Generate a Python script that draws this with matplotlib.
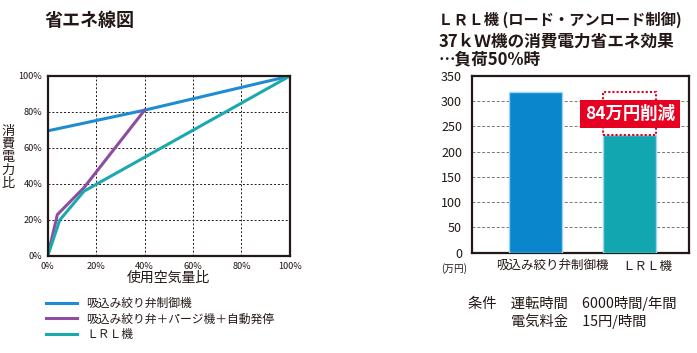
import matplotlib
matplotlib.use('Agg')
import matplotlib.pyplot as plt
from matplotlib.patches import Rectangle

plt.rcParams['font.family'] = ['Noto Sans CJK JP', 'DejaVu Sans']

# left chart: 省エネ線図
air_ticks = [0, 20, 40, 60, 80, 100]
blue_x = [0, 40, 100]
blue_y = [69.5, 81, 100]
purple_x = [0, 4, 15, 40]
purple_y = [0, 23, 38, 81]
teal_x = [0, 5, 15, 100]
teal_y = [0, 20, 36, 100]
line_labels = ['吸込み絞り弁制御機', '吸込み絞り弁＋パージ機＋自動発停', 'ＬＲＬ機']

# right chart: 電力費
bar_names = ['吸込み絞り弁制御機', 'ＬＲＬ機']
bar_values = [318, 234]
saving = 84
cost_ticks = [0, 50, 100, 150, 200, 250, 300, 350]

ink = '#231815'
c_blue = '#1E8CD2'
c_purple = '#8E4DA0'
c_teal = '#1BA8AE'

fig = plt.figure(figsize=(6.97, 3.53), dpi=100)

ax = fig.add_axes([0.0684, 0.2748, 0.3476, 0.51])
l1, = ax.plot(blue_x, blue_y, color=c_blue, lw=2.2)
l2, = ax.plot(purple_x, purple_y, color=c_purple, lw=2.2)
l3, = ax.plot(teal_x, teal_y, color=c_teal, lw=2.2)
ax.set_xlim(0, 100)
ax.set_ylim(0, 100)
ax.set_xticks(air_ticks)
ax.set_yticks(air_ticks)
ax.set_xticklabels([f'{t}%' for t in air_ticks])
ax.set_yticklabels([f'{t}%' for t in air_ticks])
ax.tick_params(length=0, labelsize=6.6, colors=ink, pad=4)
ax.grid(True, linestyle=(0, (2, 2)), color=ink, lw=0.7)
for s in ax.spines.values():
    s.set_linewidth(1.6)
    s.set_color(ink)
ax.set_xlabel('使用空気量比', fontsize=10, color=ink, labelpad=0)
fig.text(0.012, 0.555, '\n'.join('消費電力比'), fontsize=9.5, color=ink,
         ha='center', va='center', linespacing=1.0)
fig.text(0.064, 0.943, '省エネ線図', fontsize=13, fontweight='bold', color=ink,
         ha='left', va='center')

fig.legend([l1, l2, l3], line_labels, loc='upper left',
           bbox_to_anchor=(0.058, 0.175), frameon=False, fontsize=8.5,
           handlelength=2.6, handletextpad=0.8, labelspacing=0.2,
           borderpad=0, labelcolor=ink)

# right chart
pos = [0, 1]
bx = fig.add_axes([0.6768, 0.2841, 0.3113, 0.5006])
bx.bar(pos, bar_values, width=0.56, color=['#0A87CC', '#12A6B1'],
       edgecolor='#9ED6F2', linewidth=1.0, zorder=3)
bx.set_xlim(-0.67, 1.62)
bx.set_ylim(0, 350)
bx.set_yticks(cost_ticks)
# the category names sit a little right of the bars in the original
bx.set_xticks([p + 0.18 for p in pos])
bx.set_xticklabels(bar_names, fontsize=9, color=ink)
bx.tick_params(length=0, labelsize=9, colors=ink, pad=7)
bx.tick_params(axis='x', pad=5)
bx.yaxis.grid(True, linestyle=(0, (3, 2)), color='#777777', lw=0.7)
bx.set_axisbelow(True)
for s in bx.spines.values():
    s.set_linewidth(1.6)
    s.set_color(ink)

# saving box
bx.add_patch(Rectangle((pos[1] - 0.28, bar_values[1]), 0.56, saving, fill=False,
                       edgecolor='#E60021', linestyle=(0, (1, 1)), lw=1.5, zorder=4))
bx.text(pos[1], 275, f'{saving}万円削減', fontsize=12.5,
        fontweight='bold', color='white', ha='center', va='center', zorder=5,
        bbox=dict(boxstyle='square,pad=0.3', fc='#E60021', ec='none'))

fig.text(0.651, 0.238, '(万円)', fontsize=7, color=ink, ha='center', va='center')
fig.text(0.629, 0.943, 'ＬＲＬ機 (ロード・アンロード制御)', fontsize=11,
         fontweight='bold', color=ink, ha='left', va='center')
fig.text(0.629, 0.884, '37ｋＷ機の消費電力省エネ効果', fontsize=12,
         fontweight='bold', color=ink, ha='left', va='center')
fig.text(0.629, 0.833, '…負荷50%時', fontsize=12,
         fontweight='bold', color=ink, ha='left', va='center')

fig.text(0.671, 0.141, '条件　運転時間　6000時間/年間', fontsize=10.3, color=ink,
         ha='left', va='center')
fig.text(0.733, 0.089, '電気料金　15円/時間', fontsize=10.3, color=ink,
         ha='left', va='center')

fig.savefig('out.png', dpi=100)
